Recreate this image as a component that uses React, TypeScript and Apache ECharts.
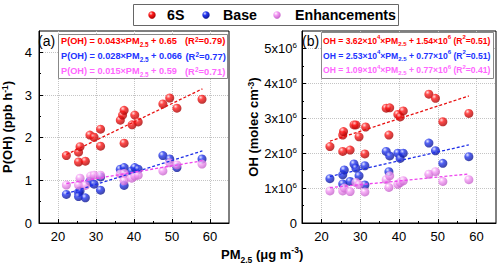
import React, { useEffect, useRef } from "react";
import * as echarts from "echarts";

// ---------- data ----------
const seriesNames = ["6S", "Base", "Enhancements"];

// Panel (a): P(OH) (ppb h-1) vs PM2.5
const pohSixS: [number, number][] = [
  [22.2, 1.58], [25.4, 1.66], [25.8, 1.79], [25.4, 1.43], [27.2, 1.45],
  [28.4, 2.06], [29.5, 2.01], [31.2, 2.2], [31.2, 1.8], [36.4, 2.41],
  [37.0, 2.53], [37.4, 2.64], [37.4, 1.87], [39.5, 2.3], [40.2, 2.53],
  [41.1, 2.37], [47.6, 2.79], [49.4, 2.93], [51.3, 2.69], [57.9, 2.9],
];
const pohBase: [number, number][] = [
  [22.2, 0.67], [25.4, 0.72], [25.8, 0.75], [25.4, 0.62], [27.2, 0.59],
  [28.4, 0.98], [29.5, 0.91], [31.2, 1.08], [31.2, 0.77], [36.4, 1.26],
  [37.4, 1.3], [37.4, 0.88], [39.4, 1.22], [40.2, 1.3], [41.1, 1.26],
  [47.6, 1.58], [49.4, 1.5], [51.3, 1.3], [57.9, 1.5],
];
const pohEnh: [number, number][] = [
  [22.2, 0.89], [25.4, 0.89], [25.8, 1.05], [27.2, 0.88], [28.6, 1.1],
  [29.5, 1.12], [31.2, 1.12], [36.4, 1.15], [37.4, 1.16], [37.4, 0.99],
  [39.4, 1.05], [40.2, 1.1], [41.1, 1.12], [47.6, 1.22], [49.4, 1.41],
  [51.3, 1.36], [57.9, 1.38],
];

// Panel (b): OH (molec cm-3) vs PM2.5
const ohSixS: [number, number][] = [
  [22.2, 2.19e6], [25.5, 2.05e6], [25.5, 2.52e6], [25.7, 2.62e6], [27.4, 2.09e6],
  [28.4, 2.81e6], [28.9, 2.81e6], [29.7, 2.47e6], [31.2, 1.98e6], [31.4, 2.75e6],
  [36.7, 3.29e6], [37.4, 2.52e6], [37.6, 3.3e6], [39.7, 3.11e6], [40.3, 3.04e6],
  [41.1, 3.21e6], [47.7, 3.69e6], [49.4, 3.57e6], [51.3, 2.9e6], [58.0, 3.14e6],
];
const ohBase: [number, number][] = [
  [22.2, 1.27e6], [25.5, 1.38e6], [25.9, 1.52e6], [25.5, 1.12e6], [27.4, 1.19e6],
  [28.4, 1.69e6], [28.9, 1.57e6], [29.7, 1.35e6], [31.2, 1.64e6], [31.2, 1.09e6],
  [36.7, 2.05e6], [37.6, 1.92e6], [37.4, 1.47e6], [39.7, 2.0e6], [40.3, 1.85e6],
  [41.1, 2.0e6], [47.7, 2.29e6], [49.4, 2.07e6], [51.3, 1.71e6], [58.0, 1.9e6],
];
const ohEnh: [number, number][] = [
  [22.2, 0.92e6], [25.5, 0.92e6], [25.9, 1.0e6], [27.4, 0.9e6], [28.9, 1.16e6],
  [29.7, 1.1e6], [31.2, 0.89e6], [36.7, 1.24e6], [37.6, 1.35e6], [37.4, 1.02e6],
  [39.7, 1.11e6], [40.3, 1.16e6], [41.1, 1.21e6], [47.7, 1.4e6], [49.4, 1.47e6],
  [51.3, 1.19e6], [58.0, 1.24e6],
];

// regression coefficients [slope, intercept]
const fitA: [number, number][] = [[0.043, 0.65], [0.028, 0.066], [0.015, 0.59]];
const fitB: [number, number][] = [[3.62e4, 1.54e6], [2.53e4, 0.77e6], [1.09e4, 0.77e6]];
const fitRange: [number, number] = [22.2, 58.0];

const xLabelTicks = [20, 30, 40, 50, 60];
const xMinorTicks = [25, 35, 45, 55];
const yLabelTicksA = [0, 1, 2, 3, 4];
const yMinorTicksA = [0.5, 1.5, 2.5, 3.5];
const yLabelTicksB = [0, 1e6, 2e6, 3e6, 4e6, 5e6];
const yMinorTicksB = [0.5e6, 1.5e6, 2.5e6, 3.5e6, 4.5e6];

const eqLeftA = [
  "P(OH) = 0.043×PM{sub|2.5} + 0.65",
  "P(OH) = 0.028×PM{sub|2.5} + 0.066",
  "P(OH) = 0.015×PM{sub|2.5} + 0.59",
];
const eqRightA = ["(R{sup|2}=0.79)", "(R{sup|2}=0.77)", "(R{sup|2}=0.71)"];
const eqB = [
  "OH = 3.62×10{sup|4}×PM{sub|2.5} + 1.54×10{sup|6} (R{sup|2}=0.51)",
  "OH = 2.53×10{sup|4}×PM{sub|2.5} + 0.77×10{sup|6} (R{sup|2}=0.51)",
  "OH = 1.09×10{sup|4}×PM{sub|2.5} + 0.77×10{sup|6} (R{sup|2}=0.41)",
];

// ---------- styles ----------
const FONT = '"Liberation Sans", Arial, sans-serif';
const textColors = ["#ff0000", "#2233ff", "#ff66ff"];
const lineColors = ["#e81010", "#1f2fe8", "#ee44ee"];
const ballStops = [
  ["#ffd6d6", "#ff1a1a", "#a00000"],
  ["#dfe2ff", "#2437f0", "#0c1488"],
  ["#ffffff", "#f49cf4", "#c25ec8"],
];
const ball = (i: number) =>
  new echarts.graphic.RadialGradient(0.35, 0.3, 0.75, [
    { offset: 0, color: ballStops[i][0] },
    { offset: 0.35, color: ballStops[i][1] },
    { offset: 1, color: ballStops[i][2] },
  ]);

const makeRich = (size: number) => ({
  sup: { fontSize: size * 0.65, fontWeight: "bold", verticalAlign: "top", lineHeight: size * 0.9, fontFamily: FONT },
  sub: { fontSize: size * 0.65, fontWeight: "bold", verticalAlign: "bottom", lineHeight: size * 1.3, fontFamily: FONT },
});

const eqRich = (c: string, s: number) => ({
  sup: { fontSize: s, fontWeight: "bold", color: c, verticalAlign: "top", lineHeight: s * 1.25, fontFamily: FONT },
  sub: { fontSize: s, fontWeight: "bold", color: c, verticalAlign: "bottom", lineHeight: s * 2.1, fontFamily: FONT },
});

// legend layout (item positions in the legend box)
const legendBallX = [152, 206, 277];
const legendTextX = [167, 223, 295];

export default function App() {
  const ref = useRef<HTMLDivElement>(null);
  useEffect(() => {
    if (!ref.current) return;
    const chart = echarts.init(ref.current, undefined, { renderer: "svg" });

    const gridLine = { show: true, lineStyle: { color: "#c4c4c4", type: "dotted", width: 1 } };
    const blackLine = { show: true, onZero: false, lineStyle: { color: "#000", width: 1 } };

    const xMain = (gi: number) => ({
      type: "value", gridIndex: gi, min: 15, max: 65, interval: 5,
      axisLine: blackLine,
      splitLine: gridLine,
      axisTick: { show: true, inside: true, length: 4, customValues: xLabelTicks, lineStyle: { color: "#000" } },
      axisLabel: { customValues: xLabelTicks, color: "#000", fontSize: 13, fontFamily: FONT, margin: 7 },
    });
    const xMinor = (gi: number) => ({
      type: "value", gridIndex: gi, min: 15, max: 65, interval: 5, position: "bottom",
      axisLine: { show: false }, splitLine: { show: false },
      axisTick: { show: true, inside: true, length: 2, customValues: xMinorTicks, lineStyle: { color: "#000" } },
      axisLabel: { show: false },
    });

    const yRich = {
      sup: { fontSize: 8, verticalAlign: "top", lineHeight: 10, fontFamily: FONT, color: "#000" },
    };

    const yAxes = [
      {
        type: "value", gridIndex: 0, min: 0, max: 4.5, interval: 0.5,
        axisLine: blackLine, splitLine: gridLine,
        axisTick: { show: true, inside: true, length: 4, customValues: yLabelTicksA, lineStyle: { color: "#000" } },
        axisLabel: { customValues: yLabelTicksA, color: "#000", fontSize: 13, fontFamily: FONT, margin: 7 },
        name: "P(OH) (ppb h{sup|-1})",
        nameLocation: "middle", nameGap: 25, nameRotate: 90,
        nameTextStyle: { fontSize: 13, fontWeight: "bold", color: "#000", fontFamily: FONT, rich: makeRich(13) },
      },
      {
        type: "value", gridIndex: 0, min: 0, max: 4.5, interval: 0.5, position: "left",
        axisLine: { show: false }, splitLine: { show: false },
        axisTick: { show: true, inside: true, length: 2, customValues: yMinorTicksA, lineStyle: { color: "#000" } },
        axisLabel: { show: false },
      },
      {
        type: "value", gridIndex: 1, min: 0, max: 5.5e6, interval: 0.5e6,
        axisLine: blackLine, splitLine: gridLine,
        axisTick: { show: true, inside: true, length: 4, customValues: yLabelTicksB, lineStyle: { color: "#000" } },
        axisLabel: {
          customValues: yLabelTicksB, color: "#000", fontSize: 13, fontFamily: FONT, margin: 5,
          formatter: (v: number) => (v === 0 ? "0" : `${Math.round(v / 1e6)}x10{sup|6}`),
          rich: yRich,
        },
        name: "OH (molec cm{sup|-3})",
        nameLocation: "middle", nameGap: 37, nameRotate: 90,
        nameTextStyle: { fontSize: 13, fontWeight: "bold", color: "#000", fontFamily: FONT, rich: makeRich(13) },
      },
      {
        type: "value", gridIndex: 1, min: 0, max: 5.5e6, interval: 0.5e6, position: "left",
        axisLine: { show: false }, splitLine: { show: false },
        axisTick: { show: true, inside: true, length: 2, customValues: yMinorTicksB, lineStyle: { color: "#000" } },
        axisLabel: { show: false },
      },
    ];

    const scatter = (name: string, i: number, data: [number, number][], xi: number, yi: number) => ({
      type: "scatter", name, xAxisIndex: xi, yAxisIndex: yi, data,
      symbol: "circle", symbolSize: 9, z: 3,
      itemStyle: { color: ball(i) },
    });
    const fitLine = (i: number, coef: [number, number], xi: number, yi: number) => ({
      type: "line", xAxisIndex: xi, yAxisIndex: yi, showSymbol: false, silent: true, z: 4,
      data: fitRange.map((x) => [x, coef[0] * x + coef[1]]),
      lineStyle: { color: lineColors[i], type: [3, 2], width: 1.3 },
    });

    const series: any[] = [];
    const dataA = [pohSixS, pohBase, pohEnh];
    const dataB = [ohSixS, ohBase, ohEnh];
    for (let i = 0; i < 3; i++) {
      series.push(scatter(seriesNames[i], i, dataA[i], 0, 0));
      series.push(scatter(seriesNames[i], i, dataB[i], 2, 2));
    }
    for (let i = 0; i < 3; i++) {
      series.push(fitLine(i, fitA[i], 0, 0));
      series.push(fitLine(i, fitB[i], 2, 2));
    }

    const graphic: any[] = [
      // legend box
      { type: "rect", left: 133, top: 4, shape: { width: 265, height: 21 }, style: { fill: "#fff", stroke: "#666", lineWidth: 1 }, z: 10 },
      { type: "rect", left: 58, top: 34, shape: { width: 169, height: 44 }, style: { fill: "#fff", stroke: "#888", lineWidth: 1 }, z: 10 },
      { type: "rect", left: 321, top: 32, shape: { width: 172, height: 46 }, style: { fill: "#fff", stroke: "#888", lineWidth: 1 }, z: 10 },
      { type: "text", left: 38, top: 34, z: 11, style: { text: "(a)", fontSize: 14, fontFamily: FONT, fill: "#000" } },
      { type: "text", left: 302, top: 34, z: 11, style: { text: "(b)", fontSize: 14, fontFamily: FONT, fill: "#000" } },
      {
        type: "text", left: 221, top: 245, z: 11,
        style: {
          text: "PM{sub|2.5} (μg m{sup|-3})", fontSize: 13, fontWeight: "bold", fontFamily: FONT, fill: "#000",
          rich: {
            sub: { fontSize: 8.5, fontWeight: "bold", verticalAlign: "bottom", lineHeight: 19, fontFamily: FONT },
            sup: { fontSize: 8.5, fontWeight: "bold", verticalAlign: "top", lineHeight: 11, fontFamily: FONT },
          },
        },
      },
    ];
    for (let i = 0; i < 3; i++) {
      graphic.push({ type: "circle", shape: { cx: legendBallX[i], cy: 15, r: 3.7 }, style: { fill: ball(i) }, z: 11 });
      graphic.push({
        type: "text", x: legendTextX[i], y: 15, z: 11,
        style: { text: seriesNames[i], fontSize: 14.2, fontWeight: "bold", fontFamily: FONT, fill: "#000", verticalAlign: "middle" },
      });
    }
    const lineYA = [40.5, 56, 71];
    const rightXA = [185, 185.5, 185];
    for (let i = 0; i < 3; i++) {
      graphic.push({
        type: "text", x: 61, y: lineYA[i], z: 11,
        style: { text: eqLeftA[i], fontSize: 9.2, fontWeight: "bold", fontFamily: FONT, fill: textColors[i], verticalAlign: "middle", rich: eqRich(textColors[i], 6.4) },
      });
      graphic.push({
        type: "text", x: rightXA[i], y: lineYA[i], z: 11,
        style: { text: eqRightA[i], fontSize: 9.4, fontWeight: "bold", fontFamily: FONT, fill: textColors[i], verticalAlign: "middle", rich: eqRich(textColors[i], 6.4) },
      });
    }
    const lineYB = [40.5, 55.5, 70];
    for (let i = 0; i < 3; i++) {
      graphic.push({
        type: "text", x: 323, y: lineYB[i], z: 11,
        style: { text: eqB[i], fontSize: 8.6, fontWeight: "bold", fontFamily: FONT, fill: textColors[i], verticalAlign: "middle", rich: eqRich(textColors[i], 6) },
      });
    }

    chart.setOption({
      animation: false,
      backgroundColor: "#fff",
      textStyle: { fontFamily: FONT },
      grid: [
        { left: 37, top: 31, width: 192, height: 192, show: true, borderColor: "#000", borderWidth: 1, backgroundColor: "transparent" },
        { left: 302, top: 31, width: 194, height: 192, show: true, borderColor: "#000", borderWidth: 1, backgroundColor: "transparent" },
      ],
      xAxis: [xMain(0), xMinor(0), xMain(1), xMinor(1)],
      yAxis: yAxes,
      series,
      graphic,
    });
    return () => chart.dispose();
  }, []);
  return <div ref={ref} style={{ width: 500, height: 267, position: "absolute", left: 0, top: 0 }} />;
}
